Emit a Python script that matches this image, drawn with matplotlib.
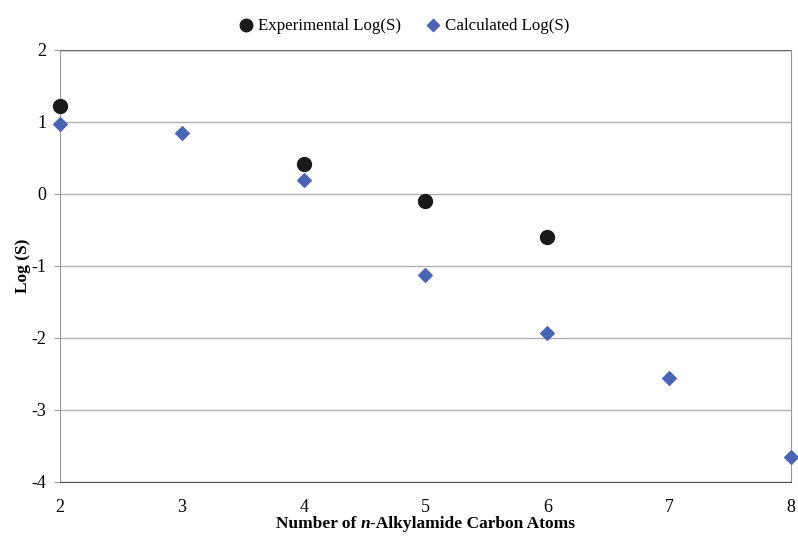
import matplotlib.pyplot as plt

plt.rcParams['font.family'] = ['Liberation Serif', 'DejaVu Serif']
plt.rcParams['axes.unicode_minus'] = False

exp_x = [2, 4, 5, 6]
exp_y = [1.22, 0.42, -0.10, -0.60]
calc_x = [2, 3, 4, 5, 6, 7, 8]
calc_y = [0.97, 0.85, 0.20, -1.12, -1.93, -2.55, -3.65]

fig = plt.figure(figsize=(7.98, 5.39), dpi=100)
ax = fig.add_axes([0.0752, 0.1058, 0.916, 0.8015])

ax.grid(axis='y', color='#b0b0b0', lw=1)
ax.set_axisbelow(True)
ax.scatter(exp_x, exp_y, s=100, color='#1a1a1a', marker='o', zorder=3,
           label='Experimental Log(S)', clip_on=False)
ax.scatter(calc_x, calc_y, s=48, color='#4a64b4', marker='D', zorder=3,
           label='Calculated Log(S)', clip_on=False)

ax.set_xlim(2, 8)
ax.set_ylim(-4, 2)
ax.set_xticks(range(2, 9))
ax.set_yticks(range(-4, 3))
ax.spines['top'].set_visible(False)
ax.spines['left'].set_color('#999999')
ax.spines['right'].set_color('#999999')
ax.spines['bottom'].set_color('#555555')
ax.axhline(2, color='#666666', lw=1)
ax.tick_params(axis='y', length=4, color='#999999', labelsize=13, pad=6)
ax.tick_params(axis='x', length=0, labelsize=13, pad=12)

ax.set_ylabel('Log (S)', fontsize=12.5, fontweight='bold', labelpad=0)

# x label with italic "n"
fig.canvas.draw()
parts = [('Number of ', 'normal'), ('n', 'italic'), ('-Alkylamide Carbon Atoms', 'normal')]
texts = []
for s, st in parts:
    t = fig.text(0, 0.02, s, fontsize=12.5, fontweight='bold', style=st, ha='left', va='baseline')
    texts.append(t)
r = fig.canvas.get_renderer()
widths = [t.get_window_extent(r).width / fig.bbox.width for t in texts]
xc = ax.get_position().x0 + ax.get_position().width / 2
x = xc - sum(widths) / 2
for t, w in zip(texts, widths):
    t.set_x(x)
    x += w

fig.legend(loc='upper center', bbox_to_anchor=(0.5, 0.995), ncol=2, frameon=False,
           fontsize=12.2, handletextpad=-0.3, columnspacing=0.9, markerscale=0.9)

fig.savefig('out.png', dpi=100)
